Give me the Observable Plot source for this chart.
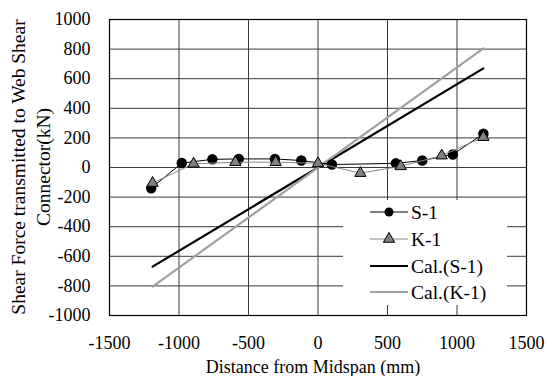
<!DOCTYPE html>
<html><head><meta charset="utf-8">
<script src="https://cdn.jsdelivr.net/npm/d3@7"></script>
<script src="https://cdn.jsdelivr.net/npm/@observablehq/plot@0.6"></script>
<style>
html,body{margin:0;padding:0;background:#fff;}
svg{display:block;}
</style>
</head><body>
<div id="chart"></div>
<script>
// S-1 measured
const s1X = [-1200, -980, -760, -570, -310, -120, 100, 560, 750, 970, 1190];
const s1Y = [-140, 30, 55, 58, 58, 47, 20, 28, 47, 88, 228];
// K-1 measured
const k1X = [-1190, -895, -595, -305, 0, 305, 595, 890, 1190];
const k1Y = [-105, 25, 36, 36, 28, -38, 8, 80, 205];
// Calculated lines
const calX = [-1190, 1190];
const calS1 = [-670, 670];
const calK1 = [-805, 805];
const xTicks = [-1500, -1000, -500, 0, 500, 1000, 1500];
const yTicks = [-1000, -800, -600, -400, -200, 0, 200, 400, 600, 800, 1000];
const seriesNames = ["S-1", "K-1", "Cal.(S-1)", "Cal.(K-1)"];
const xTitle = "Distance from Midspan (mm)";
const yTitle = ["Shear Force transmitted to Web Shear", "Connector(kN)"];

const s1 = s1X.map((x, i) => ({x, y: s1Y[i]}));
const k1 = k1X.map((x, i) => ({x, y: k1Y[i]}));
const cs = calX.map((x, i) => ({x, y: calS1[i]}));
const ck = calX.map((x, i) => ({x, y: calK1[i]}));

const FONT = "'Liberation Serif', 'Times New Roman', serif";
const FS = 18, FS2 = 19.5;
const W = 547, H = 376;
const mL = 109, mR = 21, mT = 19, mB = 61;
const fmt = d => String(d);

const plot = Plot.plot({
  width: W, height: H,
  marginLeft: mL, marginRight: mR, marginTop: mT, marginBottom: mB,
  style: {fontFamily: FONT, fontSize: FS + "px", color: "#000", background: "#fff"},
  x: {domain: [-1500, 1500], label: null},
  y: {domain: [-1000, 1000], label: null},
  marks: [
    Plot.gridX(xTicks.slice(1, -1), {stroke: "#3a3a3a", strokeOpacity: 1, strokeWidth: 1}),
    Plot.gridY(yTicks.slice(1, -1), {stroke: "#3a3a3a", strokeOpacity: 1, strokeWidth: 1}),
    Plot.axisX({ticks: xTicks, tickFormat: fmt, tickSize: 0, tickPadding: 21, fontSize: FS, fontFamily: FONT, label: null}),
    Plot.axisY({ticks: yTicks, tickFormat: fmt, tickSize: 0, tickPadding: 19, fontSize: FS, fontFamily: FONT, label: null}),
    Plot.line(cs, {x: "x", y: "y", stroke: "#000", strokeWidth: 2.2}),
    Plot.line(ck, {x: "x", y: "y", stroke: "#a0a0a0", strokeWidth: 2.2}),
    Plot.line(s1, {x: "x", y: "y", stroke: "#000", strokeWidth: 1}),
    Plot.dot(s1, {x: "x", y: "y", r: 4.5, fill: "#000", stroke: "#000", symbol: "circle"}),
    Plot.line(k1, {x: "x", y: "y", stroke: "#8a8a8a", strokeWidth: 1}),
    Plot.dot(k1, {x: "x", y: "y", r: 4.2, fill: "#808080", stroke: "#000", strokeWidth: 1, symbol: "triangle"}),
    Plot.frame({stroke: "#000", strokeWidth: 1.2})
  ]
});

const svg = d3.select(plot);
// Legend
const lg = svg.append("g").attr("font-family", FONT).attr("font-size", FS2).attr("text-anchor", "start");
lg.append("rect").attr("x", 343).attr("y", 200).attr("width", 164).attr("height", 105).attr("fill", "#fff");
const rows = [212, 239, 266, 292];
const x0 = 370, x1 = 408;
// S-1
lg.append("line").attr("x1", x0).attr("x2", x1).attr("y1", rows[0]).attr("y2", rows[0]).attr("stroke", "#000").attr("stroke-width", 1);
lg.append("circle").attr("cx", (x0 + x1) / 2).attr("cy", rows[0]).attr("r", 4.5).attr("fill", "#000");
// K-1
lg.append("line").attr("x1", x0).attr("x2", x1).attr("y1", rows[1]).attr("y2", rows[1]).attr("stroke", "#8a8a8a").attr("stroke-width", 1);
lg.append("path").attr("d", d3.symbol(d3.symbolTriangle, Math.PI * 4.2 * 4.2)()).attr("transform", `translate(${(x0 + x1) / 2},${rows[1]})`).attr("fill", "#808080").attr("stroke", "#000");
// Cal lines
lg.append("line").attr("x1", x0).attr("x2", x1).attr("y1", rows[2]).attr("y2", rows[2]).attr("stroke", "#000").attr("stroke-width", 2.2);
lg.append("line").attr("x1", x0).attr("x2", x1).attr("y1", rows[3]).attr("y2", rows[3]).attr("stroke", "#a0a0a0").attr("stroke-width", 2.2);
seriesNames.forEach((n, i) => {
  lg.append("text").attr("x", 411).attr("y", rows[i]).attr("dy", "0.35em").attr("fill", "#000").text(n);
});

// Axis titles
svg.append("text").attr("x", 313).attr("y", 367).attr("dy", "0.35em").attr("text-anchor", "middle")
  .attr("font-family", FONT).attr("font-size", FS).attr("fill", "#000").text(xTitle);
const yt = svg.append("g").attr("transform", "translate(0,167) rotate(-90)")
  .attr("font-family", FONT).attr("font-size", FS2).attr("fill", "#000").attr("text-anchor", "middle");
yt.append("text").attr("x", 0).attr("y", 18).attr("dy", "0.35em").text(yTitle[0]);
yt.append("text").attr("x", 0).attr("y", 43).attr("dy", "0.35em").text(yTitle[1]);

document.getElementById("chart").appendChild(plot);
</script>
</body></html>
